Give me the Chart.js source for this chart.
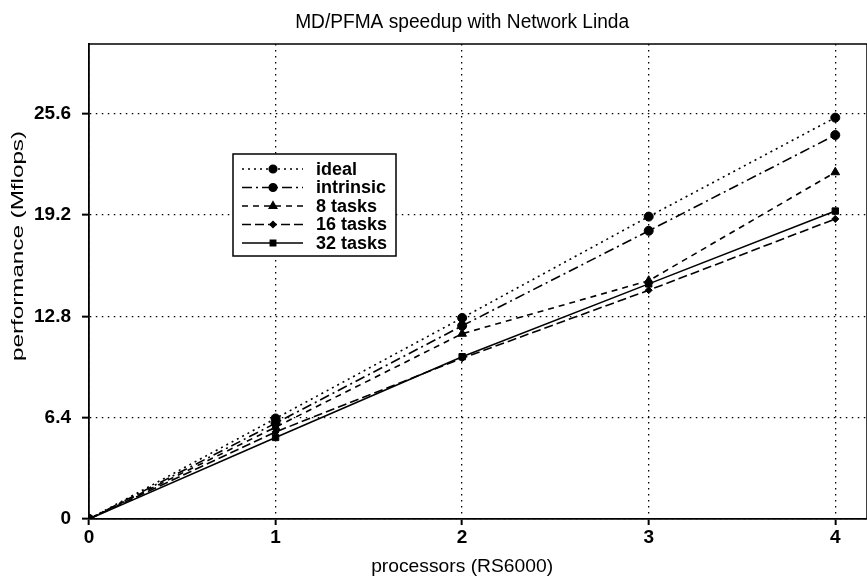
<!DOCTYPE html>
<html>
<head>
<meta charset="utf-8">
<title>MD/PFMA speedup</title>
<script src="https://cdn.jsdelivr.net/npm/chart.js@4.4.0/dist/chart.umd.min.js"></script>
<style>
  html, body { margin: 0; padding: 0; background: #fff; }
  #wrap { width: 867px; height: 584px; }
</style>
</head>
<body>
<div id="wrap"><canvas id="speedChart" width="867" height="584"></canvas></div>
<script>
// DATA
const processors = [0, 1, 2, 3, 4];
const ideal = [0, 6.35, 12.7, 19.1, 25.35];
const intrinsic = [0, 6.05, 12.2, 18.2, 24.25];
const tasks8 = [0, 5.8, 11.7, 15.05, 21.9];
const tasks16 = [0, 5.5, 10.15, 14.45, 18.95];
const tasks32 = [0, 5.15, 10.25, 14.85, 19.45];

const xTicks = [0, 1, 2, 3, 4];
const yTicks = [0, 6.4, 12.8, 19.2, 25.6];

const titleText = "MD/PFMA speedup with Network Linda";
const xTitle = "processors (RS6000)";
const yTitle = "performance (Mflops)";

const FONT = "'Liberation Sans', Arial, Helvetica, sans-serif";

function pts(values) {
    return processors.map((p, i) => ({ x: p, y: values[i] }));
}

function series(label, values, dash, style, radius) {
    return {
        label: label,
        data: pts(values),
        showLine: true,
        borderColor: "#000",
        backgroundColor: "#000",
        borderWidth: 1.6,
        borderDash: dash,
        pointStyle: style,
        pointRadius: radius,
        pointBorderWidth: 1,
        pointBorderColor: "#000",
        pointBackgroundColor: "#000",
        tension: 0
    };
}

const datasets = [
    series("ideal", ideal, [2, 4], "circle", 4.5),
    series("intrinsic", intrinsic, [10, 4, 2, 4], "circle", 4.5),
    series("8 tasks", tasks8, [6, 5], "triangle", 5),
    series("16 tasks", tasks16, [9, 4], "rectRot", 3.5),
    series("32 tasks", tasks32, [], "rect", 4.5)
];

// text squeezed/stretched to a given width (the scan is not uniform)
function fitText(c, text, x, y, width) {
    const w = c.measureText(text).width;
    c.save();
    c.translate(x, y);
    c.scale(width / w, 1);
    c.fillText(text, 0, 0);
    c.restore();
}

// legend box + titles + plot frame
const decorations = {
    id: "decorations",
    afterDraw(chart) {
        const c = chart.ctx;
        const area = chart.chartArea;
        const xs = chart.scales.x;

        // frame (top + right)
        c.save();
        c.strokeStyle = "#000";
        c.lineWidth = 1.5;
        c.beginPath();
        c.moveTo(area.left, area.top);
        c.lineTo(area.right, area.top);
        c.lineTo(area.right, area.bottom);
        c.stroke();

        // titles
        const mid = (xs.getPixelForValue(0) + xs.getPixelForValue(4)) / 2;
        c.fillStyle = "#000";
        c.textAlign = "center";
        c.textBaseline = "middle";
        c.font = "20px " + FONT;
        fitText(c, titleText, mid, 22, 334);
        c.font = "19px " + FONT;
        fitText(c, xTitle, mid, 567, 182);
        c.save();
        c.translate(18, 246);
        c.rotate(-Math.PI / 2);
        c.font = "17px " + FONT;
        fitText(c, yTitle, 0, 0, 230);
        c.restore();

        // legend
        const bx = 233, by = 154, bw = 163, bh = 102;
        c.fillStyle = "#fff";
        c.fillRect(bx, by, bw, bh);
        c.lineWidth = 1.5;
        c.strokeRect(bx, by, bw, bh);
        c.font = "bold 18px " + FONT;
        c.textAlign = "left";
        chart.data.datasets.forEach((ds, i) => {
            const y = by + 15 + i * 18.5;
            c.save();
            c.strokeStyle = "#000";
            c.lineWidth = 1.6;
            c.setLineDash(ds.borderDash);
            c.beginPath();
            c.moveTo(242, y);
            c.lineTo(303, y);
            c.stroke();
            c.restore();
            c.fillStyle = "#000";
            Chart.helpers.drawPoint(c, {
                pointStyle: ds.pointStyle,
                radius: ds.pointRadius * 0.85,
                rotation: 0,
                borderWidth: 1
            }, 273, y);
            c.fillStyle = "#000";
            c.fillText(ds.label, 316, y + 1);
        });
        c.restore();
    }
};

const chartEl = document.getElementById("speedChart");

new Chart(chartEl, {
    type: "scatter",
    data: { datasets: datasets },
    options: {
        responsive: false,
        animation: false,
        devicePixelRatio: 1,
        layout: { autoPadding: false, padding: { top: 44, right: 0, left: 0, bottom: 0 } },
        plugins: {
            legend: { display: false },
            title: { display: false },
            tooltip: { enabled: false }
        },
        scales: {
            x: {
                type: "linear",
                min: 0,
                max: 4.17,
                afterBuildTicks: s => { s.ticks = xTicks.map(v => ({ value: v })); },
                afterFit: s => { s.height = 65; },
                grid: {
                    color: "#000",
                    lineWidth: 1.3,
                    tickLength: 6,
                    tickColor: "#000",
                    tickWidth: 2,
                    tickBorderDash: []
                },
                border: { display: true, color: "#000", width: 1.8, dash: [1.5, 4.5] },
                ticks: {
                    color: "#000",
                    padding: 1,
                    maxRotation: 0,
                    font: { family: FONT, size: 19, weight: "bold" },
                    callback: v => String(v)
                }
            },
            y: {
                type: "linear",
                min: 0,
                max: 30,
                afterBuildTicks: s => { s.ticks = yTicks.map(v => ({ value: v })); },
                afterFit: s => { s.width = 89; },
                grid: {
                    color: "#000",
                    lineWidth: 1.3,
                    tickLength: 7,
                    tickColor: "#000",
                    tickWidth: 2,
                    tickBorderDash: []
                },
                border: { display: true, color: "#000", width: 1.8, dash: [1.5, 4.5] },
                ticks: {
                    color: "#000",
                    padding: 11,
                    font: { family: FONT, size: 19, weight: "bold" },
                    callback: v => (v === 0 ? "0" : v.toFixed(1))
                }
            }
        }
    },
    plugins: [decorations]
});
</script>
</body>
</html>
